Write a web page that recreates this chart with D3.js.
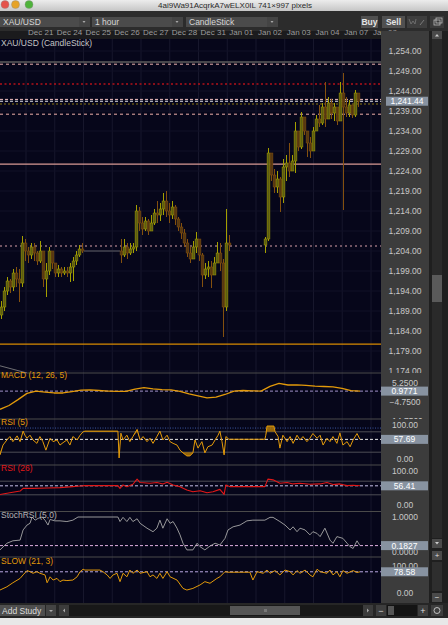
<!DOCTYPE html>
<html>
<head>
<meta charset="utf-8">
<script src="https://cdn.jsdelivr.net/npm/d3@7"></script>
<style>
  body { margin: 0; background: #e6e6e6; }
  svg { display: block; font-family: "Liberation Sans", Arial, sans-serif; }
</style>
</head>
<body>
<div class="canvas"></div>
<script>
// ---- data ----
const dayLabels = ['Dec 21', 'Dec 24', 'Dec 25', 'Dec 26', 'Dec 27', 'Dec 28', 'Dec 31', 'Jan 01', 'Jan 02', 'Jan 03', 'Jan 04', 'Jan 07', 'Jan 08'];

// candles, one per slot, null where the market was closed
const closes = [1190, 1194, 1196.5, 1195, 1198.5, 1197, 1196, 1206, 1204, 1203, 1205, 1203.5, 1201.5, 1204, 1197, 1199, 1204, 1201, 1198.5, 1199.5, 1198.5, 1199, 1198.5, 1200, 1201.5, 1203, 1204.5, 1204,
  null, null, null, null, null, null, null, null, null, null, null, null,
  1203, 1205, 1203.5, 1204.5, 1205, 1214, 1211, 1209.5, 1211.5, 1209, 1211, 1213.5, 1213, 1214.5, 1216.5, 1214, 1213, 1215, 1212, 1210, 1208.5, 1206, 1203.5, 1202, 1205, 1207, 1203, 1198, 1199.5, 1200, 1198, 1201, 1203.5, 1201, 1190, 1206, 1205.5,
  null, null, null, null, null, null, null, null, null, null, null,
  1207, 1228.5, 1223, 1220, 1222, 1217.5, 1225, 1226, 1224, 1226.5, 1234, 1230, 1237.5, 1234, 1231, 1229, 1234, 1237, 1236, 1240, 1237, 1241, 1238.5, 1240, 1236.5, 1243.5, 1240, 1238.5, 1240.5, 1238, 1243.5, 1241.44];
const highs = [1191.5, 1195, 1197.5, 1197, 1199.5, 1200, 1199.5, 1207.75, 1207, 1205, 1206, 1206, 1204, 1206.5, 1204, 1201, 1205, 1204, 1201, 1200.5, 1200, 1200, 1200, 1201, 1202.5, 1204, 1205.5, 1206,
  null, null, null, null, null, null, null, null, null, null, null, null,
  1207, 1207, 1206, 1206, 1206, 1215.5, 1215, 1212.5, 1212.5, 1212, 1213, 1214.5, 1216.5, 1216, 1218.5, 1219, 1216, 1216.5, 1215.5, 1212.5, 1211, 1209.5, 1207, 1205, 1206.5, 1208.75, 1207, 1203.5, 1201, 1201.5, 1201.5, 1202.5, 1206.25, 1206, 1202, 1214.5, 1208,
  null, null, null, null, null, null, null, null, null, null, null,
  1207.5, 1229.75, 1228, 1224.5, 1224, 1222.5, 1227, 1228, 1231, 1228, 1236.25, 1233.5, 1238.75, 1236, 1234, 1232.5, 1235, 1238, 1240.5, 1241, 1246.25, 1242.5, 1242, 1241, 1240, 1246.25, 1248.5, 1242.5, 1241.75, 1240, 1244.25, 1242];
const lows = [1187, 1189, 1193, 1193.5, 1194, 1195, 1191.25, 1195, 1201.5, 1201, 1202, 1201.5, 1200.5, 1201, 1195, 1192.5, 1198, 1199.5, 1197.5, 1197.5, 1197.5, 1198, 1197.5, 1196.25, 1196.5, 1200.5, 1202.5, 1203.5,
  null, null, null, null, null, null, null, null, null, null, null, null,
  1201, 1202.5, 1202, 1203, 1203.5, 1204, 1209, 1208, 1209, 1208, 1209.5, 1210.5, 1211, 1211.5, 1213, 1212.5, 1211, 1212, 1210.5, 1209, 1207, 1205, 1202.5, 1201, 1202, 1203.5, 1201.5, 1195, 1197, 1197.5, 1194.75, 1198, 1201, 1199, 1182.5, 1189, 1204,
  null, null, null, null, null, null, null, null, null, null, null,
  1203.5, 1206.5, 1221.5, 1218.5, 1218.5, 1213.75, 1216, 1221.5, 1222.5, 1224, 1223.5, 1229, 1229.5, 1233, 1227.5, 1227.25, 1229.5, 1234, 1235, 1235.5, 1235, 1237.5, 1237, 1236.5, 1235.5, 1238, 1214.25, 1237.5, 1237.5, 1237.25, 1237.5, 1240];
const firstOpen = 1188;

const priceTicks = [1254, 1249, 1244, 1239, 1234, 1229, 1224, 1219, 1214, 1209, 1204, 1199, 1194, 1189, 1184, 1179, 1174];
const lastPrice = 1241.44;
// horizontal levels drawn on the price pane
const levelPrices = [1251.25, 1250.7, 1245.75, 1241.9, 1241.44, 1240.75, 1238.2, 1225.7, 1205.25, 1180.7];
// user trendline [slot, price]
const trendLine = [[0, 1175.3], [9, 1173.5]];

// MACD every 3 slots from slot 0 to 120
const macdVals = [-8.6, -6.6, -3.5, -0.2, 1.0, 0.5, 0.0, 0.0, 0.7, 1.5, 1.6, 1.3, 1.0, 0.8, 0.8, 2.0, 2.8, 2.2, 1.8, 1.6, 0.8, -0.5, -1.5, -2.6, -2.2, -0.8, 1.0, 1.3, 1.1, 1.0, 3.5, 5.0, 4.2, 4.3, 4.0, 3.6, 3.4, 3.2, 2.4, 1.2, 0.9771];
const macdTicks = [15.25, 5.25, -4.75, -14.75];

// [slot, value]
const rsi5 = [[0,12],[1,41],[2.3,56],[3.3,66],[4.3,51],[5.7,68],[6.7,51],[7.7,82],[8.3,70],[9,61],[10,70],[11,56],[12.3,46],[13.3,66],[14.3,51],[15.3,26],[16.7,61],[17.7,51],[19,56],[20,41],[21,48],[22.3,56],[23.3,41],[24.3,66],[25.7,56],[26.7,70],[27.7,80],[28.3,82],[39.3,82],[39.7,3],[40.3,76],[41,56],[42.3,70],[43.3,51],[44.3,66],[45.7,87],[46.7,56],[47.7,66],[49,51],[50,61],[51,46],[52.3,66],[53.3,82],[54.3,56],[55.7,70],[56.7,51],[57.7,46],[59,41],[60,26],[61,18],[62.3,9],[63.3,9],[64.3,18],[65,56],[66,32],[67.3,51],[68.3,18],[69.3,36],[70.7,41],[71.7,56],[72.7,70],[73.3,82],[74,51],[74.7,12],[75.3,66],[76.3,58],[88.3,58],[88.6,70],[89,97],[91.3,97],[91.7,80],[92.7,66],[93.3,32],[94.3,70],[95.7,51],[96.7,66],[97.7,46],[99,70],[100,56],[101,66],[102.3,51],[103.3,61],[104.3,75],[105.7,61],[106.7,70],[107.7,41],[109,61],[110,51],[111,66],[112.3,46],[113.3,77],[114.3,41],[115.7,51],[116.7,36],[117.7,56],[119,75],[120,57.69]];
const rsi26 = [[0,31],[3.3,36],[6.7,41],[7.7,49],[11,49],[15.7,50],[20,51],[24.3,54],[26.7,56],[28.3,57],[39.3,57],[40,49],[41,59],[42.3,54],[44.3,61],[45.7,76],[46.7,66],[50,64],[52.3,66],[54.3,62],[55.7,67],[57.7,59],[60,54],[62.3,44],[64.3,39],[66.7,42],[69,36],[71,39],[73.3,46],[74.7,31],[75.3,59],[76.7,54],[88.3,54],[89.3,76],[91,74],[93.3,64],[95.7,66],[97.7,62],[100,64],[103.3,61],[106.7,62],[109,66],[111,60],[113.3,62],[115.7,57],[117.7,58],[120,56.41]];
const stochRsi = [[0,0.06],[2.3,0.25],[4.3,0.32],[6.7,0.34],[7.7,0.63],[9,0.77],[10,0.82],[10.7,1.0],[11.7,0.91],[12.7,0.96],[14,1.0],[15,0.91],[16,0.77],[16.7,0.93],[18.3,0.89],[20,0.89],[22.3,0.87],[24.3,0.91],[26,1.0],[39.3,1.0],[40,0.87],[41,0.99],[42.3,0.87],[43.3,0.99],[44.3,0.87],[45.7,0.95],[46.7,0.82],[49,0.68],[51,0.58],[52.3,0.68],[53.3,0.91],[54.3,0.68],[55.7,0.95],[56.7,0.82],[57.7,0.87],[59,0.68],[60,0.49],[61,0.25],[62.3,0.06],[64.3,0.06],[65.7,0.25],[66.7,0.15],[68.3,0.06],[70,0.17],[71.7,0.25],[73.3,0.2],[75,0.39],[76,0.63],[77.7,0.72],[80,0.77],[82.3,0.89],[84.3,0.91],[88.3,0.91],[90,0.99],[91,0.99],[93.3,0.87],[95,0.77],[96.7,0.63],[97.7,0.72],[99,0.58],[100,0.68],[101.7,0.63],[103.3,0.49],[104.3,0.58],[105.7,0.53],[106.7,0.44],[108.3,0.68],[110,0.34],[111,0.25],[112.3,0.44],[114.3,0.39],[115.7,0.25],[116.7,0.15],[117.7,0.1],[119,0.32],[120,0.1827]];
const slow = [[0,11],[2.3,23],[4.3,38],[6.7,54],[7.7,67],[9,83],[10,79],[11,73],[12.3,79],[13.3,73],[15,67],[15.7,38],[16.7,60],[17.7,48],[19,54],[20,42],[21,48],[22.3,46],[24.3,48],[25.7,60],[26.7,79],[27.7,88],[28.3,85],[33.3,85],[34.3,79],[35.7,67],[36.7,54],[37.7,67],[39,73],[40,42],[41,73],[42.3,60],[43.3,85],[44.3,73],[45.7,85],[46.7,73],[49,79],[50,60],[51,67],[52.3,54],[53.3,73],[54.3,54],[55.7,79],[56.7,60],[59,48],[61,17],[62.3,11],[64.3,17],[66.7,30],[68.3,42],[70,36],[72.3,54],[73.3,60],[75,79],[76,77],[83.3,77],[84.3,48],[85.7,79],[87.7,73],[89,85],[90,73],[91.7,83],[93.3,67],[95,85],[96.7,79],[97.7,67],[99,83],[100,73],[101.7,85],[103.3,67],[104.3,60],[105.7,88],[106.7,79],[109,73],[110,85],[111,67],[112.3,79],[113.3,60],[114.3,83],[115.7,73],[117.7,83],[119,76],[120,78.58]];

// ---- layout ----
const W = 448, H = 625;
const plotW = 381;          // plot area width, price axis to the right
const axisX = 381, axisW = 48;
const slotsPerDay = 9.583, firstDaySlot = 8.67;

const svg = d3.select('.canvas').append('svg')
  .attr('width', W).attr('height', H);

const x = d3.scaleLinear().domain([0, 120]).range([0, 360]);

// title bar
const defs = svg.append('defs');
const tg = defs.append('linearGradient').attr('id', 'titleGrad').attr('x1', 0).attr('x2', 0).attr('y1', 0).attr('y2', 1);
tg.append('stop').attr('offset', 0).attr('stop-color', '#ececec');
tg.append('stop').attr('offset', 1).attr('stop-color', '#c6c6c6');
svg.append('rect').attr('width', W).attr('height', 11).attr('fill', 'url(#titleGrad)');
[['#e5534b', 5], ['#e6a326', 15.5], ['#4fb33b', 29]].forEach(([c, cx]) => {
  svg.append('circle').attr('cx', cx).attr('cy', 4.5).attr('r', 4).attr('fill', c).attr('stroke', '#8a8a8a').attr('stroke-width', 0.4);
});
svg.append('text').attr('x', 235).attr('y', 8).attr('text-anchor', 'middle')
  .attr('font-size', 8).attr('fill', '#2a2a2a').text('4ai9Wa91AcqrkA7wELX0IL 741×997 pixels');

// toolbar
svg.append('rect').attr('y', 11).attr('width', W).attr('height', 20).attr('fill', '#2c2c2c');
const drops = [['XAU/USD', 0, 90], ['1 hour', 92, 183], ['CandleStick', 186, 278]];
drops.forEach(([t, x0, x1]) => {
  svg.append('rect').attr('x', x0).attr('y', 17).attr('width', x1 - x0).attr('height', 10).attr('fill', '#4b4b4b');
  svg.append('rect').attr('x', x1 - 11).attr('y', 17).attr('width', 11).attr('height', 10).attr('fill', '#444');
  svg.append('path').attr('d', `M${x1 - 7.5},21 l3,0 l-1.5,2 z`).attr('fill', '#aaa');
  svg.append('text').attr('x', x0 + 3).attr('y', 25).attr('font-size', 8.5).attr('fill', '#d6d6d6').text(t);
});
[['Buy', 361, 378], ['Sell', 382, 405]].forEach(([t, x0, x1]) => {
  svg.append('rect').attr('x', x0).attr('y', 16).attr('width', x1 - x0).attr('height', 12).attr('fill', '#505050');
  svg.append('text').attr('x', (x0 + x1) / 2).attr('y', 25).attr('text-anchor', 'middle')
    .attr('font-size', 8.5).attr('font-weight', 'bold').attr('fill', '#e4e4e4').text(t);
});
svg.append('rect').attr('x', 407).attr('y', 16).attr('width', 20).attr('height', 12).attr('fill', '#3e3e3e');
svg.append('path').attr('d', 'M409,19 l2,5 l2,-3 l2,3 l1,-5').attr('fill', 'none').attr('stroke', '#777').attr('stroke-width', 0.8);
svg.append('path').attr('d', 'M420,25 l4,-5').attr('stroke', '#888').attr('stroke-width', 0.8);
svg.append('rect').attr('x', 430).attr('y', 16).attr('width', 14).attr('height', 12).attr('fill', '#3a3a3a');
svg.append('rect').attr('x', 434).attr('y', 20).attr('width', 6).attr('height', 5).attr('fill', 'none').attr('stroke', '#bbb').attr('stroke-width', 0.8);
svg.append('rect').attr('x', 436).attr('y', 18).attr('width', 6).attr('height', 5).attr('fill', 'none').attr('stroke', '#bbb').attr('stroke-width', 0.8);

// date strip, axis panel, right scroller
svg.append('rect').attr('y', 31).attr('width', plotW).attr('height', 8).attr('fill', '#1b1b1d');
svg.append('rect').attr('x', axisX).attr('y', 31).attr('width', axisW).attr('height', 572).attr('fill', '#3c3c3c');
svg.append('rect').attr('x', 429).attr('y', 31).attr('width', 19).attr('height', 572).attr('fill', '#1f1f1f');
svg.append('rect').attr('x', 432).attr('y', 31).attr('width', 10).attr('height', 8).attr('fill', '#4a4a4a');
svg.append('path').attr('d', 'M435,36.5 l2,-2.5 l2,2.5 z').attr('fill', '#ccc');
svg.append('rect').attr('x', 432).attr('y', 275).attr('width', 10).attr('height', 27).attr('fill', '#5a5a5a');
svg.append('rect').attr('x', 432).attr('y', 39).attr('width', 10).attr('height', 236).attr('fill', '#2a2a2a');
svg.append('rect').attr('x', 432).attr('y', 302).attr('width', 10).attr('height', 236).attr('fill', '#2a2a2a');
svg.append('rect').attr('x', 432).attr('y', 539).attr('width', 10).attr('height', 9).attr('fill', '#4a4a4a');
svg.append('path').attr('d', 'M435,542 l4,0 l-2,2.5 z').attr('fill', '#ccc');
svg.append('rect').attr('x', 432).attr('y', 551).attr('width', 10).attr('height', 9).attr('fill', '#4a4a4a');
svg.append('text').attr('x', 437).attr('y', 558).attr('text-anchor', 'middle').attr('font-size', 8).attr('fill', '#ddd').text('+');
svg.append('rect').attr('x', 432).attr('y', 562).attr('width', 10).attr('height', 29).attr('fill', '#2e2e2e');
svg.append('rect').attr('x', 432).attr('y', 593).attr('width', 10).attr('height', 9).attr('fill', '#4a4a4a');
svg.append('text').attr('x', 437).attr('y', 600).attr('text-anchor', 'middle').attr('font-size', 8).attr('fill', '#ddd').text('−');

// plot background
svg.append('rect').attr('y', 39).attr('width', plotW).attr('height', 564).attr('fill', '#06061a');

// day grid + date labels
const daySlots = dayLabels.map((d, i) => firstDaySlot + i * slotsPerDay);
svg.append('g').selectAll('line').data(daySlots).join('line')
  .attr('x1', d => x(d)).attr('x2', d => x(d)).attr('y1', 39).attr('y2', 603)
  .attr('stroke', '#17172c').attr('stroke-width', 1);
const dateAxis = d3.axisTop(x).tickValues(daySlots).tickSize(0).tickFormat((d, i) => dayLabels[i]);
const dateG = svg.append('g').attr('transform', 'translate(0,38)').call(dateAxis);
dateG.select('.domain').remove();
dateG.attr('font-family', null).attr('font-size', 8);
dateG.selectAll('text').attr('fill', '#9c9c9c').attr('text-anchor', 'start').attr('dx', 1.5).attr('dy', -0.5);
svg.append('rect').attr('x', axisX).attr('y', 31).attr('width', 48).attr('height', 8).attr('fill', '#3c3c3c');

// ---- panes ----
const panes = [
  { name: 'price', top: 39, bottom: 373 },
  { name: 'macd', top: 373, bottom: 419 },
  { name: 'rsi5', top: 419, bottom: 465 },
  { name: 'rsi26', top: 465, bottom: 511.5 },
  { name: 'stoch', top: 511.5, bottom: 557 },
  { name: 'slow', top: 557, bottom: 603 }
];
panes.forEach((p, i) => {
  defs.append('clipPath').attr('id', 'clip-' + p.name)
    .append('rect').attr('x', 0).attr('y', p.top).attr('width', plotW).attr('height', p.bottom - p.top);
  defs.append('clipPath').attr('id', 'aclip-' + p.name)
    .append('rect').attr('x', axisX).attr('y', p.top).attr('width', axisW).attr('height', p.bottom - p.top);
  if (i > 0) {
    svg.append('line').attr('x1', 0).attr('x2', plotW).attr('y1', p.top).attr('y2', p.top)
      .attr('stroke', '#4a4a4a').attr('stroke-width', 1);
  }
});

const yPrice = d3.scaleLinear().domain([1254, 1174]).range([51, 371]);
const yMacd = d3.scaleLinear().domain([5.25, -4.75]).range([383, 402]);
const yRsi5 = d3.scaleLinear().domain([100, 0]).range([425, 459]);
const yRsi26 = d3.scaleLinear().domain([100, 0]).range([471, 505]);
const yStoch = d3.scaleLinear().domain([1, 0]).range([517, 552]);
const ySlow = d3.scaleLinear().domain([100, 0]).range([566, 593]);

// price grid
const pg = svg.append('g').attr('clip-path', 'url(#clip-price)');
pg.selectAll('line.grid').data(priceTicks).join('line').attr('class', 'grid')
  .attr('x1', 0).attr('x2', plotW).attr('y1', d => yPrice(d)).attr('y2', d => yPrice(d))
  .attr('stroke', '#111126');

// levels
const levelStyles = [
  { c: '#5c5c5c', w: 1.6, dash: null },
  { c: '#f0b4b0', w: 1, dash: '3,3' },
  { c: '#b3121a', w: 1.4, dash: '2,2.5' },
  { c: '#f0c0c0', w: 1, dash: '3,2' },
  { c: '#e8e8f0', w: 1, dash: '3,2' },
  { c: '#8a7410', w: 1.2, dash: '2,2' },
  { c: '#f0b0aa', w: 1, dash: '3,3' },
  { c: '#d99a94', w: 1.2, dash: null },
  { c: '#d8a0a8', w: 1, dash: '2,3' },
  { c: '#d78a00', w: 1.2, dash: null }
];
pg.selectAll('line.level').data(levelPrices).join('line').attr('class', 'level')
  .attr('x1', 0).attr('x2', plotW).attr('y1', d => yPrice(d)).attr('y2', d => yPrice(d))
  .attr('stroke', (d, i) => levelStyles[i].c).attr('stroke-width', (d, i) => levelStyles[i].w)
  .attr('stroke-dasharray', (d, i) => levelStyles[i].dash);

pg.append('path').datum(trendLine)
  .attr('d', d3.line().x(d => x(d[0])).y(d => yPrice(d[1])))
  .attr('stroke', '#8a8a8a').attr('stroke-width', 0.8).attr('fill', 'none');

// candles
const candles = closes.map((c, i) => {
  if (c === null) return null;
  let prev = null;
  for (let j = i - 1; j >= 0; j--) { if (closes[j] !== null) { prev = closes[j]; break; } }
  return { i, open: prev === null ? firstOpen : prev, close: c, high: highs[i], low: lows[i] };
}).filter(d => d);

// closed-market connectors
const gaps = [];
for (let k = 1; k < candles.length; k++) {
  if (candles[k].i - candles[k - 1].i > 1) gaps.push([candles[k - 1], candles[k]]);
}
pg.selectAll('line.gap').data(gaps.slice(0, 1)).join('line').attr('class', 'gap')
  .attr('x1', d => x(d[0].i + 1)).attr('x2', d => x(d[1].i))
  .attr('y1', d => yPrice(d[0].close)).attr('y2', d => yPrice(d[0].close))
  .attr('stroke', '#45454f').attr('stroke-width', 1.3);

const upEdge = '#a4a000', upBody = '#5c5c12', dnEdge = '#84500e', dnBody = '#553812';
const cg = pg.append('g');
cg.selectAll('line').data(candles).join('line')
  .attr('x1', d => x(d.i + 0.5)).attr('x2', d => x(d.i + 0.5))
  .attr('y1', d => yPrice(d.high)).attr('y2', d => yPrice(d.low))
  .attr('stroke', d => d.close >= d.open ? upEdge : dnEdge).attr('stroke-width', 1);
cg.selectAll('rect').data(candles).join('rect')
  .attr('x', d => x(d.i + 0.5) - 1.4).attr('width', 2.8)
  .attr('y', d => yPrice(Math.max(d.open, d.close)))
  .attr('height', d => Math.max(1, Math.abs(yPrice(d.open) - yPrice(d.close))))
  .attr('fill', d => d.close >= d.open ? upBody : dnBody)
  .attr('stroke', d => d.close >= d.open ? upEdge : dnEdge).attr('stroke-width', 0.5);

svg.append('text').attr('x', 1).attr('y', 46).attr('font-size', 8.5).attr('fill', '#c4c4c4').text('XAU/USD (CandleStick)');

// ---- indicator panes ----
function hline(pane, yv, color, dash, w) {
  svg.append('line').attr('clip-path', `url(#clip-${pane})`)
    .attr('x1', 0).attr('x2', plotW).attr('y1', yv).attr('y2', yv)
    .attr('stroke', color).attr('stroke-width', w || 1).attr('stroke-dasharray', dash);
}
function series(pane, data, ys, color, w) {
  svg.append('path').attr('clip-path', `url(#clip-${pane})`).datum(data)
    .attr('d', d3.line().x(d => x(d[0])).y(d => ys(d[1])))
    .attr('fill', 'none').attr('stroke', color).attr('stroke-width', w || 1).attr('stroke-linejoin', 'round');
}

// MACD
const macdPts = macdVals.map((v, i) => [i * 3, v]);
hline('macd', yMacd(macdVals[macdVals.length - 1]), '#9f90c8', '3,2');
series('macd', macdPts, yMacd, '#e39a0a', 1.3);

// RSI 5
hline('rsi5', yRsi5(91), '#3b56a0', '1,1.5');
hline('rsi5', yRsi5(80), '#4d4d55');
hline('rsi5', yRsi5(20), '#4d4d55');
svg.append('path').attr('clip-path', 'url(#clip-rsi5)').datum(rsi5)
  .attr('d', d3.area().x(d => x(d[0])).y0(d => yRsi5(d[1] > 80 ? 80 : d[1] < 20 ? 20 : d[1])).y1(d => yRsi5(d[1])))
  .attr('fill', '#b07808').attr('opacity', 0.85);
hline('rsi5', yRsi5(57.69), '#e6e6e6', '3,2');
series('rsi5', rsi5, yRsi5, '#e39a0a', 1);

// RSI 26
hline('rsi26', yRsi26(70), '#4d4d55');
hline('rsi26', yRsi26(30), '#4d4d55');
hline('rsi26', yRsi26(56.41), '#c8c0e8', '3,2');
series('rsi26', rsi26, yRsi26, '#e01818', 1.1);

// StochRSI
hline('stoch', yStoch(0.1827), '#e0b0e0', '3,2');
series('stoch', stochRsi, yStoch, '#a8a8a8', 0.9);

// SLOW
hline('slow', ySlow(78.58), '#b8a8e0', '3,2');
series('slow', slow, ySlow, '#e39a0a', 1);

// pane titles
[['MACD (12, 26, 5)', 378, '#e39a0a'], ['RSI (5)', 425, '#e39a0a'], ['RSI (26)', 471, '#e01818'],
 ['StochRSI (5,0)', 518, '#b4b4b4'], ['SLOW (21, 3)', 564, '#e39a0a']].forEach(([t, yy, c]) => {
  svg.append('text').attr('x', 1).attr('y', yy).attr('font-size', 8.5).attr('fill', c).text(t);
});

// ---- right axes ----
function rightAxis(pane, scale, ticks, fmt) {
  const ax = d3.axisRight(scale).tickValues(ticks).tickSize(0).tickPadding(0).tickFormat(fmt);
  const outer = svg.append('g').attr('clip-path', `url(#aclip-${pane})`);
  const g = outer.append('g').attr('transform', 'translate(405,0)').call(ax);
  g.select('.domain').remove();
  g.attr('font-family', null).attr('font-size', 8.5);
  g.selectAll('text').attr('text-anchor', 'middle').attr('fill', '#c9c9c9');
}
rightAxis('price', yPrice, priceTicks, d3.format(',.2f'));
rightAxis('macd', yMacd, macdTicks, d3.format('.4f'));
rightAxis('rsi5', yRsi5, [100, 0], d3.format('.2f'));
rightAxis('rsi26', yRsi26, [100, 0], d3.format('.2f'));
rightAxis('stoch', yStoch, [1, 0], d3.format('.4f'));
rightAxis('slow', ySlow, [100, 0], d3.format('.2f'));

function valueBox(yv, label, x0) {
  svg.append('rect').attr('x', x0).attr('y', yv - 4.5).attr('width', 428 - x0).attr('height', 9).attr('fill', '#8893a1');
  svg.append('text').attr('x', (x0 + 428) / 2).attr('y', yv + 3).attr('text-anchor', 'middle')
    .attr('font-size', 8.5).attr('fill', '#ffffff').text(label);
}
valueBox(yPrice(lastPrice), d3.format(',.2f')(lastPrice), 386);
valueBox(yMacd(macdVals[macdVals.length - 1]), d3.format('.4f')(macdVals[macdVals.length - 1]), 381);
valueBox(yRsi5(57.69), '57.69', 381);
valueBox(yRsi26(56.41), '56.41', 381);
valueBox(yStoch(0.1827), '0.1827', 381);
valueBox(ySlow(78.58), '78.58', 381);

// ---- bottom bar ----
svg.append('rect').attr('y', 603).attr('width', W).attr('height', 15).attr('fill', '#262626');
svg.append('rect').attr('x', 0).attr('y', 605).attr('width', 45).attr('height', 11).attr('fill', '#4e4e4e');
svg.append('text').attr('x', 2).attr('y', 614).attr('font-size', 8.5).attr('fill', '#dcdcdc').text('Add Study');
svg.append('rect').attr('x', 46).attr('y', 605).attr('width', 10).attr('height', 11).attr('fill', '#444');
svg.append('path').attr('d', 'M49,610 l4,0 l-2,2 z').attr('fill', '#aaa');
svg.append('rect').attr('x', 59).attr('y', 605).attr('width', 314).attr('height', 11).attr('fill', '#181818');
svg.append('rect').attr('x', 59).attr('y', 605).attr('width', 10).attr('height', 11).attr('fill', '#3c3c3c');
svg.append('path').attr('d', 'M65,608.5 l0,4 l-2,-2 z').attr('fill', '#aaa');
svg.append('rect').attr('x', 363).attr('y', 605).attr('width', 10).attr('height', 11).attr('fill', '#3c3c3c');
svg.append('path').attr('d', 'M367,608.5 l0,4 l2,-2 z').attr('fill', '#aaa');
svg.append('rect').attr('x', 230).attr('y', 606).attr('width', 70).attr('height', 9).attr('fill', '#555');
svg.append('rect').attr('x', 264).attr('y', 609).attr('width', 3).attr('height', 3).attr('fill', '#777');
svg.append('rect').attr('x', 376).attr('y', 605).attr('width', 10).attr('height', 11).attr('fill', '#3e3e3e');
svg.append('text').attr('x', 381).attr('y', 614).attr('text-anchor', 'middle').attr('font-size', 9).attr('fill', '#ddd').text('−');
svg.append('rect').attr('x', 387).attr('y', 605).attr('width', 30).attr('height', 11).attr('fill', '#141414');
svg.append('rect').attr('x', 388).attr('y', 606).attr('width', 6).attr('height', 9).attr('fill', '#555');
svg.append('rect').attr('x', 418).attr('y', 605).attr('width', 10).attr('height', 11).attr('fill', '#3e3e3e');
svg.append('text').attr('x', 423).attr('y', 614).attr('text-anchor', 'middle').attr('font-size', 9).attr('fill', '#ddd').text('+');
svg.append('rect').attr('x', 431).attr('y', 605).attr('width', 12).attr('height', 11).attr('fill', '#3e3e3e');
svg.append('circle').attr('cx', 437).attr('cy', 610.5).attr('r', 3).attr('fill', 'none').attr('stroke', '#ccc').attr('stroke-width', 0.9);
svg.append('rect').attr('y', 618).attr('width', W).attr('height', 7).attr('fill', '#e8e8e8');
</script>
</body>
</html>
